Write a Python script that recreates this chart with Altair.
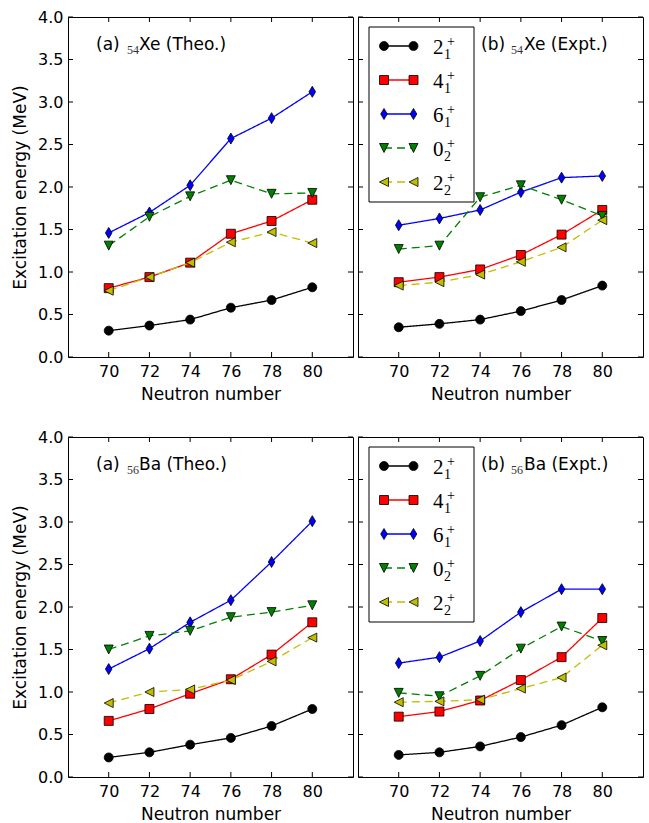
import altair as alt
import pandas as pd

# ---------------- data ----------------
N = [70, 72, 74, 76, 78, 80]
STATES = ["2_1", "4_1", "6_1", "0_2", "2_2"]

# (a) 54Xe theory
xe_theo_21 = [0.31, 0.37, 0.44, 0.58, 0.67, 0.82]
xe_theo_41 = [0.81, 0.94, 1.11, 1.45, 1.60, 1.85]
xe_theo_61 = [1.46, 1.70, 2.02, 2.57, 2.81, 3.12]
xe_theo_02 = [1.31, 1.65, 1.89, 2.08, 1.92, 1.93]
xe_theo_22 = [0.78, 0.94, 1.11, 1.35, 1.47, 1.34]

# (b) 54Xe experiment
xe_expt_21 = [0.35, 0.39, 0.44, 0.54, 0.67, 0.84]
xe_expt_41 = [0.88, 0.94, 1.03, 1.20, 1.44, 1.73]
xe_expt_61 = [1.55, 1.63, 1.73, 1.94, 2.11, 2.13]
xe_expt_02 = [1.27, 1.31, 1.88, 2.02, 1.85, 1.66]
xe_expt_22 = [0.84, 0.88, 0.97, 1.12, 1.29, 1.61]

# (a) 56Ba theory
ba_theo_21 = [0.23, 0.29, 0.38, 0.46, 0.60, 0.80]
ba_theo_41 = [0.66, 0.80, 0.98, 1.15, 1.44, 1.82]
ba_theo_61 = [1.27, 1.51, 1.82, 2.08, 2.53, 3.01]
ba_theo_02 = [1.50, 1.66, 1.72, 1.88, 1.94, 2.02]
ba_theo_22 = [0.87, 1.00, 1.03, 1.14, 1.36, 1.64]

# (b) 56Ba experiment
ba_expt_21 = [0.26, 0.29, 0.36, 0.47, 0.61, 0.82]
ba_expt_41 = [0.71, 0.77, 0.90, 1.14, 1.41, 1.87]
ba_expt_61 = [1.34, 1.41, 1.60, 1.94, 2.21, 2.21]
ba_expt_02 = [0.99, 0.95, 1.19, 1.51, 1.77, 1.60]
ba_expt_22 = [0.88, 0.89, 0.91, 1.04, 1.17, 1.55]

X_TICKS = [70, 72, 74, 76, 78, 80]
Y_TICKS = [0.0, 0.5, 1.0, 1.5, 2.0, 2.5, 3.0, 3.5, 4.0]

LEG_MAIN = {"2_1": "2", "4_1": "4", "6_1": "6", "0_2": "0", "2_2": "2"}
LEG_SUB = {"2_1": "1", "4_1": "1", "6_1": "1", "0_2": "2", "2_2": "2"}

PANELS = [
    dict(tag="(a)", sub="54", elem="Xe (Theo.)", legend=False, yaxis=True,
         series=[xe_theo_21, xe_theo_41, xe_theo_61, xe_theo_02, xe_theo_22]),
    dict(tag="(b)", sub="54", elem="Xe (Expt.)", legend=True, yaxis=False,
         series=[xe_expt_21, xe_expt_41, xe_expt_61, xe_expt_02, xe_expt_22]),
    dict(tag="(a)", sub="56", elem="Ba (Theo.)", legend=False, yaxis=True,
         series=[ba_theo_21, ba_theo_41, ba_theo_61, ba_theo_02, ba_theo_22]),
    dict(tag="(b)", sub="56", elem="Ba (Expt.)", legend=True, yaxis=False,
         series=[ba_expt_21, ba_expt_41, ba_expt_61, ba_expt_02, ba_expt_22]),
]

# ---------------- styles ----------------
W, H = 285, 340
SANS = "DejaVu Sans"
SERIF = "Liberation Serif"
DIAMOND = "M0,-1L0.6,0L0,1L-0.6,0Z"
TRI_DOWN = "M-1,-1L1,-1L0,1Z"
TRI_LEFT = "M-1,0L1,-1L1,1Z"
STYLE = {
    "2_1": dict(color="#000000", shape="circle", size=81, dash=[1, 0]),
    "4_1": dict(color="#ff0000", shape="square", size=81, dash=[1, 0]),
    "6_1": dict(color="#0000ff", shape=DIAMOND, size=121, dash=[1, 0]),
    "0_2": dict(color="#008000", shape=TRI_DOWN, size=81, dash=[8, 5]),
    "2_2": dict(color="#bfbf00", shape=TRI_LEFT, size=81, dash=[8, 5]),
}
LW = 1.3

xs = alt.Scale(domain=[68, 82], nice=False, zero=False)
ys = alt.Scale(domain=[0, 4], nice=False, zero=False)

dummy = pd.DataFrame({"k": [0]})
xt = pd.DataFrame({"v": X_TICKS})
yt = pd.DataFrame({"v": Y_TICKS})

X_AXIS = alt.Axis(values=X_TICKS, title="Neutron number", ticks=False, tickSize=0,
                  domain=False, grid=False, labelPadding=6, titlePadding=7,
                  labelFlush=False)
Y_AXIS_ON = alt.Axis(values=Y_TICKS, format=".1f", title="Excitation energy (MeV)",
                     ticks=False, tickSize=0, domain=False, grid=False,
                     labelPadding=5, titlePadding=8, labelFlush=False)
Y_AXIS_OFF = alt.Axis(values=Y_TICKS, labels=False, title=None, ticks=False,
                      tickSize=0, domain=False, grid=False)


def point_mark(s):
    st = STYLE[s]
    return alt.Chart(dummy).mark_point(
        shape=st["shape"], size=st["size"], filled=True, fill=st["color"],
        stroke="#000000", strokeWidth=0.8, opacity=1, fillOpacity=1)


def make_panel(p):
    layers = []
    y_axis = Y_AXIS_ON if p["yaxis"] else Y_AXIS_OFF

    def X(field):
        return alt.X(field, scale=xs, axis=X_AXIS)

    def Y(field):
        return alt.Y(field, scale=ys, axis=y_axis)

    for i, s in enumerate(STATES):
        st = STYLE[s]
        df = pd.DataFrame({"N": N, "E": p["series"][i]})
        line = alt.Chart(df).mark_line(color=st["color"], strokeWidth=LW,
                                       strokeDash=st["dash"]).encode(
            x=X("N:Q"), y=Y("E:Q"))
        pts = alt.Chart(df).mark_point(
            shape=st["shape"], size=st["size"], filled=True, fill=st["color"],
            stroke="#000000", strokeWidth=0.8, opacity=1, fillOpacity=1).encode(
            x=X("N:Q"), y=Y("E:Q"))
        layers += [line, pts]

    # inward ticks on all four sides
    tick = dict(color="#000000", strokeWidth=1)
    layers.append(alt.Chart(yt).mark_rule(**tick).encode(
        y=Y("v:Q"), x=alt.value(0), x2=alt.value(5)))
    layers.append(alt.Chart(yt).mark_rule(**tick).encode(
        y=Y("v:Q"), x=alt.value(W - 5), x2=alt.value(W)))
    layers.append(alt.Chart(xt).mark_rule(**tick).encode(
        x=X("v:Q"), y=alt.value(H - 5), y2=alt.value(H)))
    layers.append(alt.Chart(xt).mark_rule(**tick).encode(
        x=X("v:Q"), y=alt.value(0), y2=alt.value(5)))

    # panel label
    if p["legend"]:
        tx, sx, ex = 123, 153, 166
    else:
        tx, sx, ex = 28, 59, 71
    ty = 28
    layers.append(alt.Chart(dummy).mark_text(
        align="left", baseline="middle", font=SANS, fontSize=17, color="#000000").encode(
        x=alt.value(tx), y=alt.value(ty), text=alt.value(p["tag"])))
    layers.append(alt.Chart(dummy).mark_text(
        align="left", baseline="middle", font=SERIF, fontSize=12, color="#333333").encode(
        x=alt.value(sx), y=alt.value(ty + 5), text=alt.value(p["sub"])))
    layers.append(alt.Chart(dummy).mark_text(
        align="left", baseline="middle", font=SANS, fontSize=17, color="#000000").encode(
        x=alt.value(ex), y=alt.value(ty), text=alt.value(p["elem"])))

    # legend
    if p["legend"]:
        layers.append(alt.Chart(dummy).mark_rect(
            fill="#ffffff", stroke="#000000", strokeWidth=1).encode(
            x=alt.value(11), x2=alt.value(116), y=alt.value(10), y2=alt.value(185)))
        for i, s in enumerate(STATES):
            st = STYLE[s]
            ry = 29 + 34 * i
            layers.append(alt.Chart(dummy).mark_rule(
                color=st["color"], strokeWidth=LW, strokeDash=st["dash"]).encode(
                x=alt.value(26), x2=alt.value(55.5), y=alt.value(ry)))
            for mx in (26, 55.5):
                layers.append(point_mark(s).encode(x=alt.value(mx), y=alt.value(ry)))
            layers.append(alt.Chart(dummy).mark_text(
                align="left", baseline="middle", font=SERIF, fontSize=21, color="#000000").encode(
                x=alt.value(75), y=alt.value(ry + 2), text=alt.value(LEG_MAIN[s])))
            layers.append(alt.Chart(dummy).mark_text(
                align="left", baseline="middle", font=SERIF, fontSize=14, color="#000000").encode(
                x=alt.value(86), y=alt.value(ry + 9), text=alt.value(LEG_SUB[s])))
            layers.append(alt.Chart(dummy).mark_text(
                align="left", baseline="middle", font=SERIF, fontSize=14, color="#000000").encode(
                x=alt.value(89), y=alt.value(ry - 4), text=alt.value("+")))

    return alt.layer(*layers).properties(width=W, height=H)


panels = [make_panel(p) for p in PANELS]

chart = alt.concat(
    *panels, columns=2, spacing={"row": 80, "column": 5}, bounds="flush"
).properties(
    padding={"left": 11, "top": 8, "right": 5, "bottom": 5},
    background="#ffffff",
).configure_view(
    stroke="#000000", strokeWidth=1
).configure_axis(
    labelFont=SANS, titleFont=SANS, labelFontSize=16, titleFontSize=17,
    labelColor="#000000", titleColor="#000000", titleFontWeight="normal",
)

chart.save("out.html", embed_options={"renderer": "svg", "actions": False})
